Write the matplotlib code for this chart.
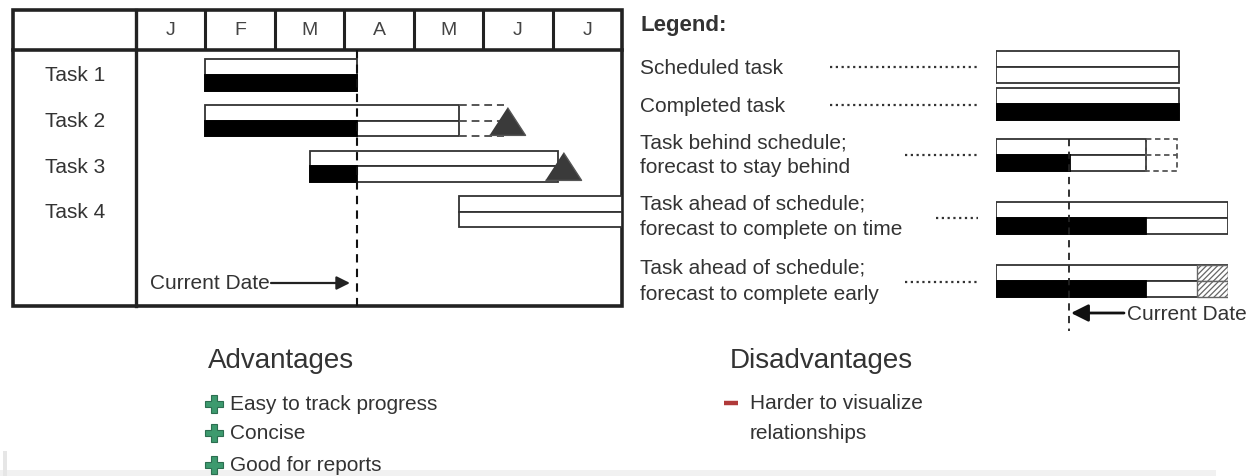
import matplotlib
matplotlib.use("Agg")
import matplotlib.pyplot as plt
from matplotlib.patches import Rectangle

# ---------------- data ----------------
months = ["J", "F", "M", "A", "M", "J", "J"]
tasks = ["Task 1", "Task 2", "Task 3", "Task 4"]
sched_start = [1.0, 1.0, 2.5, 4.65]          # month units (0 = start of Jan)
sched_end = [3.18, 4.65, 6.08, 7.0]
done_end = [3.18, 3.18, 3.18, 4.65]          # completed through (== start means nothing done)
forecast_end = [None, 5.3, None, None]       # dashed slip extension
milestone = [None, 5.34, 6.15, None]         # triangle markers
current_date = 3.18

legend_labels = [["Scheduled task"],
                 ["Completed task"],
                 ["Task behind schedule;", "forecast to stay behind"],
                 ["Task ahead of schedule;", "forecast to complete on time"],
                 ["Task ahead of schedule;", "forecast to complete early"]]
leg_sched_end = [0.79, 0.79, 0.647, 1.0, 1.0]
leg_done_end = [0.0, 0.79, 0.319, 0.647, 0.647]
leg_forecast_end = [None, None, 0.78, None, None]
leg_early_start = [None, None, None, None, 0.866]
leg_current = 0.315

advantages = ["Easy to track progress", "Concise", "Good for reports"]
disadvantages = ["Harder to visualize", "relationships"]

# ---------------- layout ----------------
W, H, DPI = 1252, 477, 100
FONT = ["Liberation Sans", "DejaVu Sans"]
TXT = "#333333"
EDGE = "#333333"
plt.rcParams["font.family"] = FONT
plt.rcParams["hatch.linewidth"] = 0.9

fig = plt.figure(figsize=(W / DPI, H / DPI), dpi=DPI)
ax = fig.add_axes([0, 0, 1, 1])
ax.set_xlim(0, W)
ax.set_ylim(H, 0)
ax.axis("off")


def px_axes(x0, y0, x1, y1):
    a = fig.add_axes([x0 / W, 1 - y1 / H, (x1 - x0) / W, (y1 - y0) / H])
    a.axis("off")
    return a


# ---- table frame (pixel layout) ----
TL, TT, TR, TB = 13, 11, 622, 307
HDR = 51
COL1 = 136
ax.add_patch(Rectangle((TL, TT), TR - TL, TB - TT, fill=False, ec="#222", lw=2.6, zorder=5))
ax.plot([TL, TR], [HDR, HDR], color="#222", lw=2.6, zorder=5)
ax.plot([COL1, COL1], [TT, TB], color="#222", lw=2.4, zorder=5)

# ---- gantt axes: x in months, y in task rows ----
ROW0, PITCH = 76, 45.6
gx = px_axes(COL1, TT, TR, TB)
gx.set_xlim(0, len(months))
y_top = (TT - ROW0) / PITCH
y_hdr = (HDR - ROW0) / PITCH
y_bot = (TB - ROW0) / PITCH
gx.set_ylim(y_bot, y_top)

gx.vlines(range(1, len(months)), y_top, y_hdr, color="#222", lw=2.2, zorder=5)
for k, m in enumerate(months):
    gx.text(k + 0.5, (y_top + y_hdr) / 2, m, ha="center", va="center",
            fontsize=14, color="#444")

h = 0.34
tri = [(-1.3, -1), (1.3, -1), (0, 1)]
for i, name in enumerate(tasks):
    s, e, d = sched_start[i], sched_end[i], done_end[i]
    gx.barh(i - h, e - s, left=s, height=h, align="edge", fc="white", ec=EDGE, lw=1.3, zorder=3)
    gx.barh(i, e - s, left=s, height=h, align="edge", fc="white", ec=EDGE, lw=1.3, zorder=3)
    if d > s:
        gx.barh(i, d - s, left=s, height=h, align="edge", fc="black", ec="black", lw=1.3, zorder=3)
    if forecast_end[i] is not None:
        gx.hlines([i - h, i, i + h], e, forecast_end[i], color="#555", lw=1.4,
                  ls=(0, (4, 2.5)), zorder=3)
    if milestone[i] is not None:
        gx.plot([milestone[i]], [i], marker=tri, ms=26, color="#3a3a3a", mec="#555",
                mew=1, zorder=4, clip_on=False)
    gx.text((45 - COL1) / (TR - COL1) * len(months), i, name, ha="left", va="center",
            fontsize=15, color=TXT, clip_on=False)

gx.vlines(current_date, y_hdr, y_bot, color="#111", lw=1.5, ls=(0, (4, 3)), zorder=4)

ax.text(150, 284, "Current Date", ha="left", va="center", fontsize=15, color=TXT)
ax.annotate("", xy=(350, 284), xytext=(271, 284),
            arrowprops=dict(arrowstyle="-|>", color="#222", lw=1.6, mutation_scale=20,
                            shrinkA=0, shrinkB=0))

# ---- legend ----
ax.text(640, 25, "Legend:", ha="left", va="center", fontsize=16, fontweight="bold", color="#333")
text_rows = [[68], [106], [143, 168], [204, 230], [268, 295]]
leader_x0 = [830, 830, 905, 936, 905]
leader_y = [68, 106, 156, 219, 283]
for lines, ys in zip(legend_labels, text_rows):
    for t, y in zip(lines, ys):
        ax.text(640, y, t, ha="left", va="center", fontsize=15, color=TXT)
for x0, y in zip(leader_x0, leader_y):
    ax.plot([x0, 978], [y, y], color="#333", lw=1.6, ls=(0, (1, 1.6)))

LX0, LX1 = 996, 1228
lx = px_axes(LX0, 40, LX1, 340)
lx.set_xlim(0, 1)
lx.set_ylim(340, 40)
leg_row_y = [68, 105, 156, 219, 282]
lh = 16
for j, yc in enumerate(leg_row_y):
    se, de = leg_sched_end[j], leg_done_end[j]
    lx.barh(yc - lh, se, left=0, height=lh, align="edge", fc="white", ec=EDGE, lw=1.3, zorder=3)
    lx.barh(yc, se, left=0, height=lh, align="edge", fc="white", ec=EDGE, lw=1.3, zorder=3)
    if de > 0:
        lx.barh(yc, de, left=0, height=lh, align="edge", fc="black", ec="black", lw=1.3, zorder=3)
    if leg_forecast_end[j] is not None:
        lx.barh(yc - lh, leg_forecast_end[j] - se, left=se, height=2 * lh, align="edge",
                fill=False, ec="#555", lw=1.3, ls=(0, (3, 2)), zorder=3)
        lx.plot([se, leg_forecast_end[j]], [yc, yc], color="#555", lw=1.3, ls=(0, (3, 2)), zorder=3)
    if leg_early_start[j] is not None:
        for yy in (yc - lh, yc):
            lx.barh(yy, se - leg_early_start[j], left=leg_early_start[j], height=lh,
                    align="edge", fc="white", ec="#666", lw=1.0, hatch="//////", zorder=4)

lx.vlines(leg_current, leg_row_y[2] - lh, 332, color="#222", lw=1.3, ls=(0, (4, 3)), zorder=5)
ax.annotate("", xy=(1071, 314), xytext=(1124, 314),
            arrowprops=dict(arrowstyle="-|>", color="#111", lw=2.0, mutation_scale=26,
                            shrinkA=0, shrinkB=0))
ax.text(1127, 315, "Current Date", ha="left", va="center", fontsize=15, color=TXT)

# ---- advantages / disadvantages ----
ax.text(208, 361, "Advantages", ha="left", va="center", fontsize=20, color="#333")
ax.text(730, 361, "Disadvantages", ha="left", va="center", fontsize=20, color="#333")
adv_y = [405, 434, 466]
for t, y in zip(advantages, adv_y):
    ax.plot([214], [y], marker="P", ms=13, color="#3d9a6e", mec="#2c6e50", mew=0.8)
    ax.text(230, y, t, ha="left", va="center", fontsize=15, color=TXT)
dis_y = [404, 434]
ax.plot([724, 738], [dis_y[0], dis_y[0]], color="#b03a3a", lw=3.2, solid_capstyle="butt")
for t, y in zip(disadvantages, dis_y):
    ax.text(750, y, t, ha="left", va="center", fontsize=15, color=TXT)

# faint bottom strip
ax.add_patch(Rectangle((0, 471), 1216, 6, fc="#f1f1f1", ec="none", zorder=0))
ax.add_patch(Rectangle((3, 452), 4, 25, fc="#e6e6e6", ec="none", zorder=0))

fig.savefig("out.png", dpi=DPI)
